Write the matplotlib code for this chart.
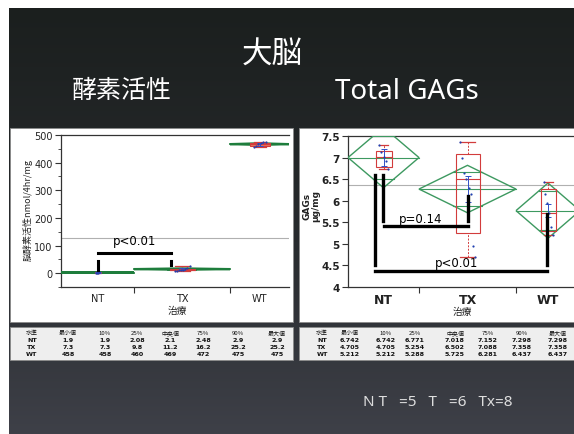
import numpy as np
import matplotlib
matplotlib.use("Agg")
import matplotlib.pyplot as plt
from matplotlib.patches import Rectangle, Polygon

plt.rcParams['font.family'] = ['Noto Sans CJK JP', 'DejaVu Sans']

W, H = 574, 435

# ---------------- data ----------------
groups = ["NT", "TX", "WT"]
table_headers = ["水準", "最小値", "10%", "25%", "中央値", "75%", "90%", "最大値"]

# brain enzyme activity (nmol/4hr/mg): min, 10%, 25%, median, 75%, 90%, max
enz_nt = [1.9, 1.9, 2.08, 2.1, 2.48, 2.9, 2.9]
enz_tx = [7.3, 7.3, 9.8, 11.2, 16.2, 25.2, 25.2]
enz_wt = [458, 458, 460, 469, 472, 475, 475]
enz_means = [2.3, 14.8, 467.0]
enz_ci = [1.5, 2.5, 3.0]
enz_err = [0.4, 4.0, 5.0]
enz_grand_mean = 128
enz_points_nt = [1.9, 2.08, 2.1, 2.48, 2.9]
enz_points_tx = [7.3, 8.5, 10.2, 11.0, 11.4, 15.0, 20.5, 25.2]
enz_points_wt = [458, 460, 466, 472, 474, 475]

# total GAGs: min, 10%, 25%, median, 75%, 90%, max
gag_nt = [6.742, 6.742, 6.771, 7.018, 7.152, 7.298, 7.298]
gag_tx = [4.705, 4.705, 5.254, 6.502, 7.088, 7.358, 7.358]
gag_wt = [5.212, 5.212, 5.288, 5.725, 6.281, 6.437, 6.437]
gag_means = [7.00, 6.27, 5.77]
gag_ci = [0.70, 0.55, 0.64]
gag_err = [0.20, 0.30, 0.15]
gag_grand_mean = 6.36
gag_points_nt = [7.298, 7.13, 7.018, 6.92, 6.742]
gag_points_tx = [7.358, 7.0, 6.65, 6.502, 6.30, 6.15, 4.95, 4.705]
gag_points_wt = [6.437, 6.15, 5.95, 5.725, 5.40, 5.212]

sample_note = "N T   =5   T   =6   Tx=8"

# ---------------- figure ----------------
fig = plt.figure(figsize=(W / 100, H / 100), dpi=100)
fig.patch.set_facecolor('white')


def fx(x):
    return x / W


def fy(y):
    return 1 - y / H


# slide background with vertical gradient
bg = fig.add_axes([fx(9), 0, 1 - fx(9), fy(9)], zorder=-3)
stops = [0.0, 0.55, 1.0]
cols = np.array([[27, 31, 30], [40, 43, 46], [62, 64, 72]]) / 255
t = np.linspace(0, 1, 256)
grad = np.stack([np.interp(t, stops, cols[:, i]) for i in range(3)], axis=-1)
bg.imshow(grad[:, None, :], aspect='auto', extent=[0, 1, 0, 1], origin='upper')
bg.set_axis_off()


def panel(x0, y0, x1, y1, fc):
    fig.add_artist(Rectangle((fx(x0), fy(y1)), (x1 - x0) / W, (y1 - y0) / H,
                             transform=fig.transFigure, facecolor=fc,
                             edgecolor='#8a8a8a', lw=0.6, zorder=-2))


panel(10, 129, 293, 323, 'white')
panel(299, 129, 576, 323, 'white')
panel(10, 328, 293, 361, '#eeeeee')
panel(299, 328, 576, 361, '#eeeeee')

# slide titles
fig.text(fx(272), fy(55), "大脳", color='white', fontsize=22, ha='center', va='center')
fig.text(fx(122), fy(91), "酵素活性", color='white', fontsize=18, ha='center', va='center')
fig.text(fx(407), fy(92), "Total GAGs", color='white', fontsize=20, ha='center',
         va='center', family='Noto Sans')


def draw_groups(ax, widths, quants, means, ci, err, points, box_w, dia_color, dia_lw,
                box_fill):
    edges = np.concatenate([[0], np.cumsum(widths)])
    centers = (edges[:-1] + edges[1:]) / 2
    for i in range(len(widths)):
        e0, e1, c = edges[i], edges[i + 1], centers[i]
        m, h = means[i], ci[i]
        ax.add_patch(Polygon([(e0, m), (c, m + h), (e1, m), (c, m - h)], closed=True,
                             fill=False, edgecolor=dia_color, lw=dia_lw, zorder=3))
        ax.plot([e0, e1], [m, m], color=dia_color, lw=dia_lw * 0.8, zorder=3)
        half = 0.293 * (e1 - e0) / 2
        for s in (1, -1):
            y = m + s * h / np.sqrt(2)
            ax.plot([c - half, c + half], [y, y], color=dia_color, lw=dia_lw * 0.8, zorder=3)
        q = quants[i]
        bw = box_w[i]
        ax.add_patch(Rectangle((c - bw / 2, q[2]), bw, q[4] - q[2],
                               facecolor=box_fill, edgecolor='#d23c3c', lw=0.8, zorder=4))
        ax.plot([c - bw / 2, c + bw / 2], [q[3], q[3]], color='#d23c3c', lw=0.8, zorder=4)
        ax.plot([c, c], [q[0], q[2]], color='#d23c3c', lw=0.7, ls=(0, (2, 1.5)), zorder=4)
        ax.plot([c, c], [q[4], q[6]], color='#d23c3c', lw=0.7, ls=(0, (2, 1.5)), zorder=4)
        for v in (q[0], q[6]):
            ax.plot([c - bw * 0.3, c + bw * 0.3], [v, v], color='#d23c3c', lw=0.9, zorder=4)
        # mean +/- error in blue
        ax.errorbar([c], [m], yerr=[err[i]], color='#3050c8', lw=0.7, capsize=2,
                    capthick=0.7, zorder=5)
        pts = points[i]
        offs = np.linspace(-bw * 0.3, bw * 0.3, len(pts))
        ax.scatter(c + offs, pts, s=2.5, color='#2040b0', zorder=6, linewidths=0)
    return edges, centers


def style_axes(ax, edges, centers, ylim, yticks, ylabels, tick_font):
    ax.set_xlim(edges[0], edges[-1])
    ax.set_ylim(*ylim)
    ax.set_facecolor('none')
    ax.spines['right'].set_visible(False)
    for s in ('left', 'bottom', 'top'):
        ax.spines[s].set_color('#333333')
        ax.spines[s].set_linewidth(0.9)
    ax.set_xticks(edges[1:-1])
    ax.set_xticklabels([])
    ax.set_xticks(centers, minor=True)
    ax.set_xticklabels(groups, minor=True, **tick_font)
    ax.tick_params(axis='x', which='major', length=4, color='#333333')
    ax.tick_params(axis='x', which='minor', length=0, pad=4, colors='#222222')
    ax.set_yticks(yticks)
    ax.set_yticklabels(ylabels, **tick_font)
    ax.tick_params(axis='y', which='major', length=4, color='#333333', colors='#222222', pad=2)


# ---------------- left: enzyme activity ----------------
ax1 = fig.add_axes([fx(61), fy(288), (289 - 61) / W, (288 - 136) / H], zorder=0)
w1 = [73, 96, 59]
edges1, centers1 = draw_groups(
    ax1, w1, [enz_nt, enz_tx, enz_wt], enz_means, enz_ci, enz_err,
    [enz_points_nt, enz_points_tx, enz_points_wt], [6, 25, 20], '#1e7d3c', 1.6, '#e8745e')
ax1.axhline(enz_grand_mean, color='#b0b0b0', lw=0.8, zorder=2)
yt1 = np.arange(0, 501, 100)
style_axes(ax1, edges1, centers1, (-50, 500), yt1, [f"{v:g}" for v in yt1],
           dict(fontsize=7, family=['DejaVu Sans']))
ax1.set_yticks(np.arange(-50, 501, 50), minor=True)
ax1.tick_params(axis='y', which='minor', length=2, color='#333333')
# significance bracket
ax1.plot([centers1[0], centers1[0]], [12, 45], color='black', lw=2.2, zorder=7)
ax1.plot([110, 110], [30, 45], color='black', lw=2.2, zorder=7)
ax1.plot([centers1[0], 110], [72, 72], color='black', lw=2.2, zorder=7)
ax1.text(74, 117, "p<0.01", fontsize=8.5, ha='center', va='center', family='DejaVu Sans')
fig.text(fx(28), fy(210), "脳酵素活性nmol/4hr/mg", rotation=90, fontsize=6.5,
         ha='center', va='center', color='#222222')
fig.text(fx(177), fy(311), "治療", fontsize=7, ha='center', va='center', color='#222222')

# ---------------- right: total GAGs ----------------
ax2 = fig.add_axes([fx(348), fy(288), (580 - 348) / W, (288 - 137) / H], zorder=0)
w2 = [71, 97, 64]
edges2, centers2 = draw_groups(
    ax2, w2, [gag_nt, gag_tx, gag_wt], gag_means, gag_ci, gag_err,
    [gag_points_nt, gag_points_tx, gag_points_wt], [16, 24, 15], '#3d9960', 1.0, 'none')
ax2.axhline(gag_grand_mean, color='#b0b0b0', lw=0.8, zorder=2)
yt2 = np.arange(4.0, 7.51, 0.5)
style_axes(ax2, edges2, centers2, (4.0, 7.5), yt2, [f"{v:g}" for v in yt2],
           dict(fontsize=7.5, fontweight='bold', family=['DejaVu Sans']))
ax2.tick_params(axis='x', which='minor', labelsize=9)
# significance brackets
ax2.plot([27, 27], [4.50, 6.59], color='black', lw=2.4, zorder=7)
ax2.plot([27, centers2[2] - 1], [4.38, 4.38], color='black', lw=2.4, zorder=7)
ax2.plot([centers2[2] - 1, centers2[2] - 1], [4.50, 5.69], color='black', lw=2.4, zorder=7)
ax2.plot([35, 35], [5.52, 6.59], color='black', lw=2.4, zorder=7)
ax2.plot([36, centers2[1]], [5.41, 5.41], color='black', lw=2.4, zorder=7)
ax2.plot([centers2[1], centers2[1]], [5.52, 6.10], color='black', lw=2.4, zorder=7)
ax2.text(73, 5.59, "p=0.14", fontsize=8.5, ha='center', va='center', family='DejaVu Sans')
ax2.text(109, 4.57, "p<0.01", fontsize=8.5, ha='center', va='center', family='DejaVu Sans')
fig.text(fx(311), fy(206), "GAGs\nμg/mg", rotation=90, fontsize=6.5, fontweight='bold',
         ha='center', va='center', color='#222222', linespacing=1.0,
         family=['DejaVu Sans'])
fig.text(fx(462), fy(312), "治療", fontsize=7, ha='center', va='center', color='#222222')


# ---------------- quantile tables ----------------
def table(xs, rows, fmt):
    for x, hdr in zip(xs, table_headers):
        fig.text(fx(x), fy(333.5), hdr, fontsize=4.3, ha='center', va='center',
                 color='#111111')
    for r, (name, vals) in enumerate(zip(groups, rows)):
        y = 341 + r * 6.9
        fig.text(fx(xs[0]), fy(y), name, fontsize=4.6, fontweight='bold', ha='center',
                 va='center', color='#111111', family=['DejaVu Sans'])
        for x, v in zip(xs[1:], vals):
            fig.text(fx(x), fy(y), fmt(v), fontsize=4.6, fontweight='bold', ha='center',
                     va='center', color='#111111', family=['DejaVu Sans'])


table([32, 68, 105, 137, 170, 203, 238, 277], [enz_nt, enz_tx, enz_wt], lambda v: f"{v:g}")
table([322, 350, 386, 415, 455, 488, 522, 558], [gag_nt, gag_tx, gag_wt], lambda v: f"{v:.3f}")

fig.text(fx(363), fy(403), sample_note, fontsize=11, color='#dddddd', ha='left',
         va='center', family='Noto Sans')

fig.savefig("out.png", dpi=100)
